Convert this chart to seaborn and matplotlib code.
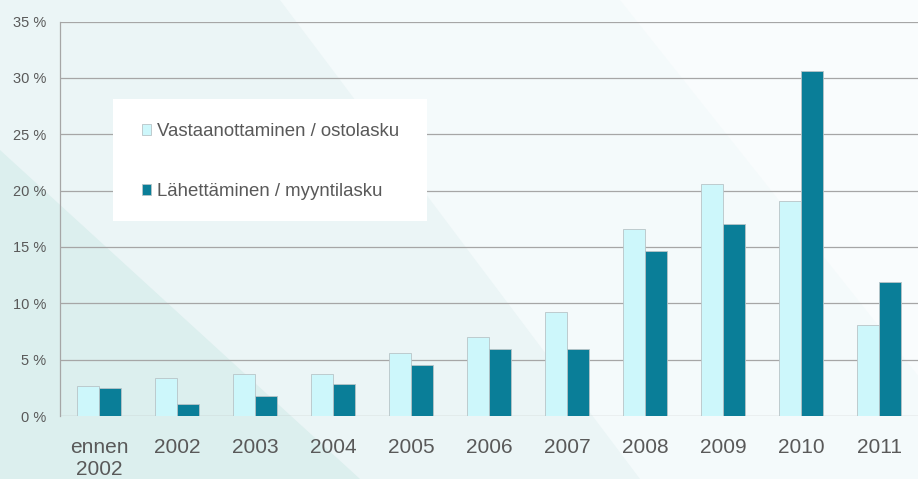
import matplotlib
matplotlib.use("Agg")
import matplotlib.pyplot as plt
import seaborn as sns
import pandas as pd
from matplotlib.patches import Polygon, Rectangle

categories = ["ennen\n2002", "2002", "2003", "2004", "2005", "2006", "2007", "2008", "2009", "2010", "2011"]
vastaanotto = [2.65, 3.4, 3.7, 3.7, 5.6, 7.05, 9.25, 16.55, 20.6, 19.1, 8.1]
lahetys = [2.5, 1.05, 1.75, 2.8, 4.55, 5.95, 5.95, 14.6, 17.0, 30.65, 11.85]
series = ["Vastaanottaminen / ostolasku", "Lähettäminen / myyntilasku"]
yticks = [0, 5, 10, 15, 20, 25, 30, 35]

df = pd.DataFrame({
    "kategoria": categories * 2,
    "arvo": vastaanotto + lahetys,
    "sarja": [series[0]] * len(categories) + [series[1]] * len(categories),
})

sns.set_theme(style="white")
plt.rcParams["font.family"] = ["Liberation Sans", "DejaVu Sans"]

fig = plt.figure(figsize=(9.18, 4.79), dpi=100)
fig.patch.set_facecolor("#f4fafb")

# background decoration
bg = fig.add_axes([0, 0, 1, 1], zorder=-10)
bg.set_xlim(0, 918); bg.set_ylim(479, 0); bg.axis("off")
bg.add_patch(Polygon([[0, 0], [280, 0], [640, 479], [0, 479]], closed=True, color="#ebf5f6", lw=0))
bg.add_patch(Polygon([[0, 150], [360, 479], [0, 479]], closed=True, color="#dcefee", lw=0))
bg.add_patch(Polygon([[620, 0], [918, 0], [918, 479], [1000, 479]], closed=True, color="#f9fcfd", lw=0))

ax = fig.add_axes([60 / 918, 1 - 416 / 479, 858 / 918, (416 - 21.5) / 479])
ax.patch.set_alpha(0)

palette = {series[0]: "#cdf7fb", series[1]: "#0a7e98"}
sns.barplot(data=df, x="kategoria", y="arvo", hue="sarja", palette=palette,
            width=0.57, saturation=1, ax=ax, edgecolor="#b8c4c7", linewidth=0.6, zorder=3)

ax.set_ylim(0, 35)
ax.set_yticks(yticks)
ax.set_yticklabels([f"{v} %" for v in yticks], fontsize=10.5, color="#595959")
ax.tick_params(axis="x", labelsize=15, colors="#595959", length=0, pad=16)
ax.tick_params(axis="y", length=0, pad=10)
ax.set_xlabel(""); ax.set_ylabel("")
ax.grid(axis="y", color="#a6a6a6", linewidth=0.9, zorder=0)
ax.set_axisbelow(True)
for s in ["top", "right", "bottom"]:
    ax.spines[s].set_visible(False)
ax.spines["left"].set_color("#a6a6a6")
ax.spines["left"].set_linewidth(0.9)

# white legend box over the gridlines
ax.add_patch(Rectangle((113 / 918, 1 - 221 / 479), 314 / 918, 122 / 479, transform=fig.transFigure,
                       facecolor="white", edgecolor="none", zorder=2))

leg = ax.legend(loc="center left", bbox_to_anchor=(142 / 918, 1 - 161.5 / 479), bbox_transform=fig.transFigure,
                frameon=False, fontsize=13.4, handlelength=0.5, handleheight=0.5, handletextpad=0.32,
                labelspacing=2.3, borderpad=0, borderaxespad=0)
for t in leg.get_texts():
    t.set_color("#595959")

fig.savefig("out.png", dpi=100, facecolor=fig.get_facecolor())
